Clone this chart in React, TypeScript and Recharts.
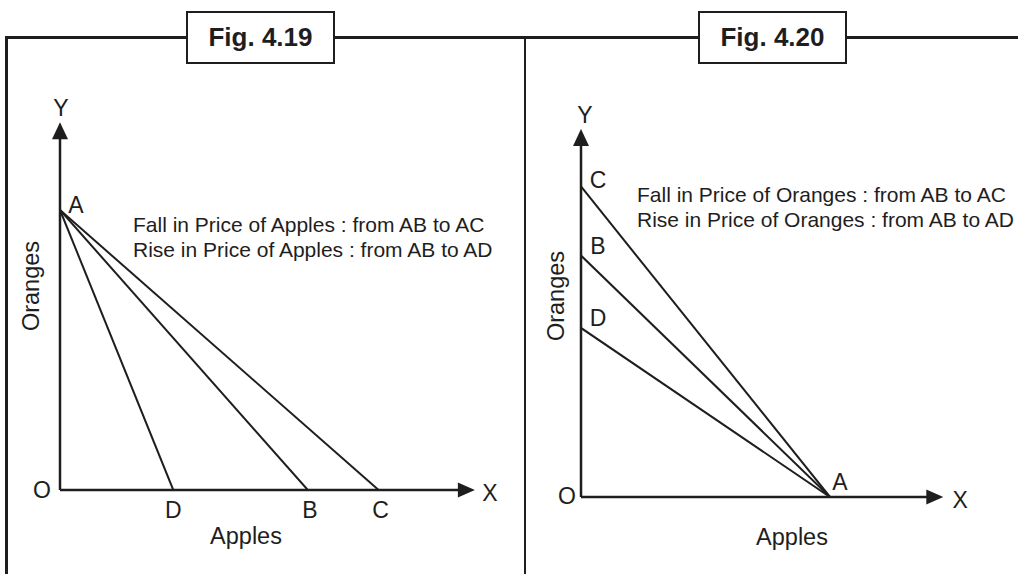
import React from 'react';
import { LineChart, Line, XAxis, YAxis, ReferenceLine, ReferenceDot } from 'recharts';

// ---------- data ----------
const fig19Title = 'Fig. 4.19';
const fig20Title = 'Fig. 4.20';

// Fig 4.19: budget lines from A (on Oranges axis) to B, C, D (on Apples axis)
const fig19Apoint = 8;
const fig19XLabels = ['B', 'C', 'D'];
const fig19XIntercepts = [7, 9, 3.2];
const fig19AxisTips = [11.72, 10.51]; // x tip, y tip
const fig19Notes = ['Fall in Price of Apples : from AB to AC', 'Rise in Price of Apples : from AB to AD'];

// Fig 4.20: budget lines from A (on Apples axis) to B, C, D (on Oranges axis)
const fig20Apoint = 10;
const fig20YLabels = ['B', 'C', 'D'];
const fig20YIntercepts = [7, 9, 4.9];
const fig20AxisTips = [14.55, 10.67];
const fig20Notes = ['Fall in Price of Oranges : from AB to AC', 'Rise in Price of Oranges : from AB to AD'];

const axisXTitle = 'Apples';
const axisYTitle = 'Oranges';

// ---------- style ----------
const INK = '#1e1e1e';
const FONT = '"Liberation Sans", Arial, Helvetica, sans-serif';
const LABEL_SIZE = 23;

const textLabel = (txt: string, dx: number, dy: number) => (props: any) => (
  <text
    x={props.cx + dx}
    y={props.cy + dy}
    textAnchor="middle"
    dominantBaseline="central"
    fontFamily={FONT}
    fontSize={LABEL_SIZE}
    fill={INK}
  >
    {txt}
  </text>
);

const arrowRight = (props: any) => (
  <polygon
    points={`${props.cx},${props.cy} ${props.cx - 17},${props.cy - 7.5} ${props.cx - 17},${props.cy + 7.5}`}
    fill={INK}
  />
);
const arrowUp = (props: any) => (
  <polygon
    points={`${props.cx},${props.cy} ${props.cx - 8},${props.cy + 17} ${props.cx + 8},${props.cy + 17}`}
    fill={INK}
  />
);

function Fig19() {
  const labelOffset: Record<string, number> = { B: 2, C: 2, D: 0 };
  return (
    <LineChart
      width={520}
      height={574}
      margin={{ top: 105, right: 35.2, bottom: 84, left: 60 }}
    >
      <XAxis type="number" dataKey="x" domain={[0, 12]} hide allowDataOverflow />
      <YAxis type="number" dataKey="y" domain={[0, 11]} hide allowDataOverflow />
      <ReferenceLine
        segment={[{ x: 0, y: 0 }, { x: fig19AxisTips[0] - 0.3, y: 0 }]}
        stroke={INK}
        strokeWidth={2.5}
        ifOverflow="visible"
      />
      <ReferenceLine
        segment={[{ x: 0, y: 0 }, { x: 0, y: fig19AxisTips[1] - 0.3 }]}
        stroke={INK}
        strokeWidth={2.5}
        ifOverflow="visible"
      />
      {fig19XIntercepts.map((xi, i) => (
        <Line
          key={fig19XLabels[i]}
          data={[{ x: 0, y: fig19Apoint }, { x: xi, y: 0 }]}
          dataKey="y"
          stroke={INK}
          strokeWidth={2}
          dot={false}
          activeDot={false}
          isAnimationActive={false}
        />
      ))}
      <ReferenceDot x={fig19AxisTips[0]} y={0} shape={arrowRight} ifOverflow="visible" />
      <ReferenceDot x={0} y={fig19AxisTips[1]} shape={arrowUp} ifOverflow="visible" />
      <ReferenceDot x={fig19AxisTips[0]} y={0} shape={textLabel('X', 15, 3)} ifOverflow="visible" />
      <ReferenceDot x={0} y={fig19AxisTips[1]} shape={textLabel('Y', 1, -14)} ifOverflow="visible" />
      <ReferenceDot x={0} y={0} shape={textLabel('O', -18, 0)} ifOverflow="visible" />
      <ReferenceDot x={0} y={fig19Apoint} shape={textLabel('A', 16, -5)} ifOverflow="visible" />
      {fig19XIntercepts.map((xi, i) => (
        <ReferenceDot
          key={'l' + fig19XLabels[i]}
          x={xi}
          y={0}
          shape={textLabel(fig19XLabels[i], labelOffset[fig19XLabels[i]], 20)}
          ifOverflow="visible"
        />
      ))}
    </LineChart>
  );
}

function Fig20() {
  const labelDy: Record<string, number> = { B: -10, C: -7, D: -10 };
  return (
    <LineChart
      width={498}
      height={574}
      margin={{ top: 117.5, right: 63.5, bottom: 77, left: 61 }}
    >
      <XAxis type="number" dataKey="x" domain={[0, 15]} hide allowDataOverflow />
      <YAxis type="number" dataKey="y" domain={[0, 11]} hide allowDataOverflow />
      <ReferenceLine
        segment={[{ x: 0, y: 0 }, { x: fig20AxisTips[0] - 0.4, y: 0 }]}
        stroke={INK}
        strokeWidth={2.5}
        ifOverflow="visible"
      />
      <ReferenceLine
        segment={[{ x: 0, y: 0 }, { x: 0, y: fig20AxisTips[1] - 0.3 }]}
        stroke={INK}
        strokeWidth={2.5}
        ifOverflow="visible"
      />
      {fig20YIntercepts.map((yi, i) => (
        <Line
          key={fig20YLabels[i]}
          data={[{ x: 0, y: yi }, { x: fig20Apoint, y: 0 }]}
          dataKey="y"
          stroke={INK}
          strokeWidth={2}
          dot={false}
          activeDot={false}
          isAnimationActive={false}
        />
      ))}
      <ReferenceDot x={fig20AxisTips[0]} y={0} shape={arrowRight} ifOverflow="visible" />
      <ReferenceDot x={0} y={fig20AxisTips[1]} shape={arrowUp} ifOverflow="visible" />
      <ReferenceDot x={fig20AxisTips[0]} y={0} shape={textLabel('X', 17, 3)} ifOverflow="visible" />
      <ReferenceDot x={0} y={fig20AxisTips[1]} shape={textLabel('Y', 4, -14)} ifOverflow="visible" />
      <ReferenceDot x={0} y={0} shape={textLabel('O', -14, -1)} ifOverflow="visible" />
      <ReferenceDot x={fig20Apoint} y={0} shape={textLabel('A', 10, -15)} ifOverflow="visible" />
      {fig20YIntercepts.map((yi, i) => (
        <ReferenceDot
          key={'l' + fig20YLabels[i]}
          x={0}
          y={yi}
          shape={textLabel(fig20YLabels[i], 17, labelDy[fig20YLabels[i]])}
          ifOverflow="visible"
        />
      ))}
    </LineChart>
  );
}

const abs = (s: React.CSSProperties): React.CSSProperties => ({ position: 'absolute', ...s });

export default function App() {
  const noteStyle = (left: number, top: number): React.CSSProperties =>
    abs({ left, top, fontFamily: FONT, fontSize: 21, color: INK, lineHeight: '25px', whiteSpace: 'nowrap' });
  const titleBox = (left: number): React.CSSProperties =>
    abs({
      left,
      top: 11,
      width: 149,
      height: 53,
      boxSizing: 'border-box',
      border: `2.5px solid ${INK}`,
      background: '#fff',
      display: 'flex',
      alignItems: 'center',
      justifyContent: 'center',
      fontFamily: FONT,
      fontWeight: 'bold',
      fontSize: 26,
      color: INK,
    });
  const axisTitle = (cx: number, cy: number, rotate = false): React.CSSProperties =>
    abs({
      left: cx,
      top: cy,
      transform: `translate(-50%, -50%)${rotate ? ' rotate(-90deg)' : ''}`,
      fontFamily: FONT,
      fontSize: 23.5,
      color: INK,
      whiteSpace: 'nowrap',
      lineHeight: 1,
    });
  return (
    <div style={abs({ left: 0, top: 0, width: 1018, height: 574, background: '#fff', overflow: 'hidden' })}>
      {/* frame */}
      <div style={abs({ left: 5, top: 36, width: 1013, height: 2.5, background: INK })} />
      <div style={abs({ left: 5, top: 36, width: 2.5, height: 538, background: INK })} />
      <div style={abs({ left: 523.5, top: 36, width: 2.5, height: 538, background: INK })} />

      <div style={abs({ left: 0, top: 0 })}>
        <Fig19 />
      </div>
      <div style={abs({ left: 520, top: 0 })}>
        <Fig20 />
      </div>

      <div style={titleBox(186)}>{fig19Title}</div>
      <div style={titleBox(698)}>{fig20Title}</div>

      <div style={noteStyle(133, 212)}>
        {fig19Notes.map((n) => (
          <div key={n}>{n}</div>
        ))}
      </div>
      <div style={noteStyle(637, 182)}>
        {fig20Notes.map((n) => (
          <div key={n}>{n}</div>
        ))}
      </div>

      <div style={axisTitle(246, 537)}>{axisXTitle}</div>
      <div style={axisTitle(32, 286, true)}>{axisYTitle}</div>
      <div style={axisTitle(792, 538)}>{axisXTitle}</div>
      <div style={axisTitle(557, 296, true)}>{axisYTitle}</div>
    </div>
  );
}
